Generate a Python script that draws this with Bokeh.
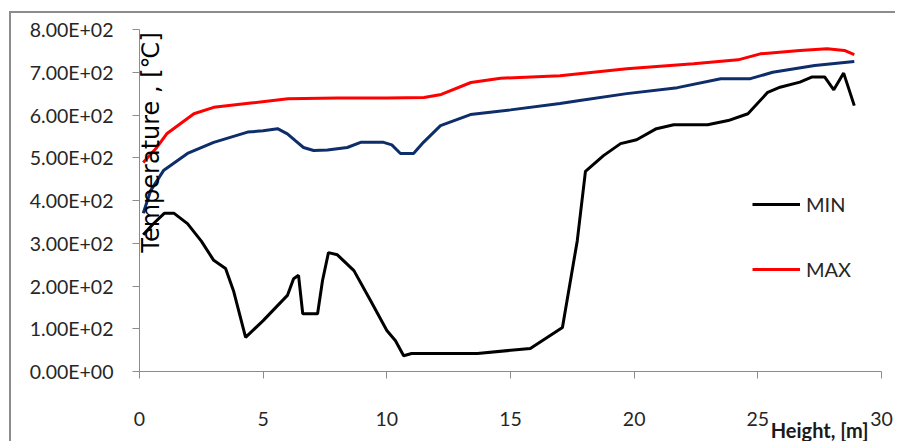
import math
from bokeh.plotting import figure
from bokeh.models import Label, Legend, LegendItem, Range1d, Title
from bokeh.embed import file_html
from bokeh.resources import INLINE

# ---- data ----
x_min = [0.15, 0.55, 1.0, 1.4, 1.94, 2.5, 3.0, 3.48, 3.8, 4.29, 5.0, 5.98, 6.23, 6.43, 6.6, 7.2, 7.4,
         7.64, 8.0, 8.67, 9.34, 10.0, 10.35, 10.68, 11.0, 13.66, 15.8, 17.1, 17.7, 18.03, 18.76, 19.45,
         20.1, 20.9, 21.6, 22.97, 23.8, 24.6, 25.4, 25.9, 26.7, 27.2, 27.7, 28.07, 28.47, 28.9]
y_min = [320, 345, 370, 370, 346, 305, 260, 241, 189, 80, 119, 178, 217, 225, 135, 135, 213,
         278, 273, 236, 166, 96, 72, 37, 42, 42, 54, 103, 306, 468, 505, 533,
         542, 568, 577, 577, 587, 603, 653, 665, 677, 689, 689, 659, 698, 622]

x_max = [0.15, 0.7, 1.1, 2.2, 3.0, 4.5, 6.0, 8.0, 10.0, 11.5, 12.2, 13.4, 14.6, 17.0, 19.7, 22.4,
         24.2, 25.1, 26.7, 27.8, 28.5, 28.9]
y_max = [489, 524, 556, 603, 618, 628, 638, 640, 640, 641, 648, 676, 686, 692, 708, 720,
         729, 743, 751, 755, 751, 741]

x_avg = [0.15, 0.45, 0.97, 1.94, 3.0, 4.37, 5.0, 5.58, 5.98, 6.3, 6.63, 7.04, 7.6, 8.4, 8.94, 9.87,
         10.2, 10.55, 11.08, 11.48, 12.17, 13.38, 15.0, 17.0, 17.8, 19.7, 21.75, 23.5, 24.7, 25.6,
         27.3, 28.9]
y_avg = [370, 423, 470, 510, 536, 560, 563, 568, 556, 540, 524, 517, 518, 524, 536, 536,
         530, 510, 510, 536, 575, 601, 612, 627, 634, 650, 664, 685, 685, 700,
         716, 725]

x_ticks = [0, 5, 10, 15, 20, 25, 30]
y_ticks = [0, 100, 200, 300, 400, 500, 600, 700, 800]
y_tick_labels = ["0.00E+00", "1.00E+02", "2.00E+02", "3.00E+02", "4.00E+02",
                 "5.00E+02", "6.00E+02", "7.00E+02", "8.00E+02"]

FONT = "Lato"

p = figure(width=886, height=430, output_backend="svg", toolbar_location=None,
           x_range=Range1d(0, 30), y_range=Range1d(0, 800),
           min_border_left=128, min_border_right=16, min_border_top=16, min_border_bottom=72)
# outer chart frame: visible on the left and top edges
p.margin = (11, 0, 0, 9)
p.styles = {"border-left": "2px solid #8c8c8c", "border-top": "2px solid #8c8c8c"}
p.outline_line_color = None
p.xgrid.visible = False
p.ygrid.visible = False

for ax in (p.xaxis[0], p.yaxis[0]):
    ax.axis_line_color = "#8c8c8c"
    ax.axis_line_width = 1
    ax.major_tick_line_color = "#8c8c8c"
    ax.major_tick_in = 0
    ax.major_tick_out = 7
    ax.minor_tick_line_color = None
    ax.major_label_text_font = FONT
    ax.major_label_text_font_size = "19.5px"
    ax.major_label_text_color = "#262626"

p.xaxis.ticker = x_ticks
p.xaxis.major_label_standoff = 33

p.yaxis.ticker = y_ticks
p.yaxis.major_label_overrides = {t: s for t, s in zip(y_ticks, y_tick_labels)}
p.yaxis.major_label_standoff = 19

# x-axis title, bottom right, overlapping the last tick labels
p.add_layout(Title(text="Height, [m]", align="right", offset=13, standoff=-25,
                   text_font=FONT, text_font_size="20px", text_font_style="bold",
                   text_color="#1a1a1a"), "below")

r_min = p.line(x_min, y_min, line_color="black", line_width=3)
r_max = p.line(x_max, y_max, line_color="#ff0000", line_width=3)
r_avg = p.line(x_avg, y_avg, line_color="#0d2d6b", line_width=3)

legend = Legend(items=[LegendItem(label="MIN", renderers=[r_min]),
                       LegendItem(label="MAX", renderers=[r_max])],
                location=(613, 87), glyph_width=48, glyph_height=30, label_height=30,
                spacing=35, padding=0, margin=0, label_standoff=6,
                label_text_font=FONT, label_text_font_size="20px", label_text_color="#262626",
                border_line_alpha=0, background_fill_alpha=0)
p.add_layout(legend)

p.add_layout(Label(x=0.445, y=536, text="Temperature , [\u2103]", angle=math.pi / 2,
                   text_align="center", text_baseline="middle", text_font="DejaVu Sans",
                   text_font_size="24px", text_color="black"))

open("out.html", "w").write(file_html(p, INLINE))
